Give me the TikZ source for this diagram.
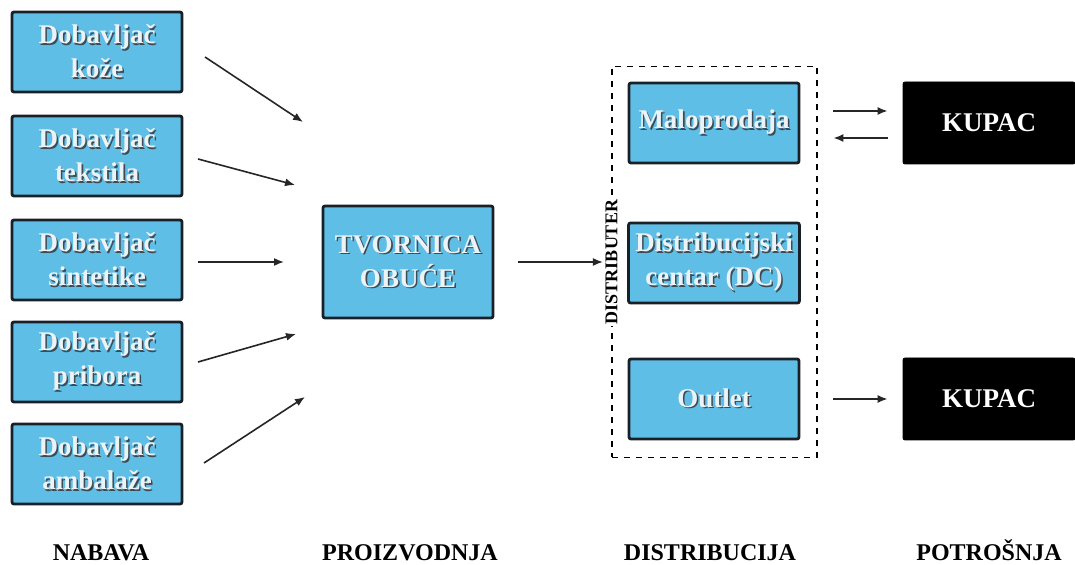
\documentclass[tikz,border=0pt]{standalone}
\usepackage{fontspec}
\setmainfont{Liberation Serif}
\usetikzlibrary{arrows.meta}
\definecolor{boxblue}{RGB}{95,190,230}
\definecolor{boxline}{RGB}{25,32,40}
\definecolor{txtpale}{RGB}{236,243,247}
\definecolor{txtshadow}{RGB}{60,75,85}
\newcommand\shd[1]{\leavevmode\rlap{\kern0.8pt\raisebox{-0.8pt}{\textcolor{txtshadow}{#1}}}#1}
\tikzset{
  bluebox/.style={draw=boxline, line width=1.4pt, fill=boxblue, rounded corners=1pt,
    minimum width=85pt, minimum height=40pt, align=center, text=txtpale,
    font=\fontsize{13.5}{17}\selectfont\bfseries},
  blackbox/.style={draw=black, fill=black, rounded corners=1pt, minimum width=86pt,
    minimum height=41pt, text=white, font=\fontsize{13.5}{17}\selectfont\bfseries},
  arr/.style={-{Latex[length=5pt,width=4pt]}, line width=0.8pt, black!85},
  stage/.style={anchor=base, font=\fontsize{12}{14}\selectfont\bfseries}
}
\begin{document}
\begin{tikzpicture}[x=0.5pt, y=-0.5pt]
\useasboundingbox (0,0) rectangle (1075,565);
% nabava
\foreach \k/\y/\txt in {1/52/kože, 2/156/tekstila, 3/260/sintetike, 4/362/pribora, 5/464/ambalaže}
    \node[bluebox] (d\k) at (97,\y) {\shd{Dobavljač}\\\shd{\txt}};
\foreach \k/\x/\y in {1/205/57, 2/198/159, 3/198/262, 4/198/362, 5/204/463}
    \coordinate (s\k) at (\x,\y);
\foreach \k/\x/\y in {1/303/122, 2/295/185, 3/284/262, 4/296/334, 5/305/397}
    \coordinate (t\k) at (\x,\y);
\foreach \k in {1,...,5}
    \draw[arr] (s\k) -- (t\k);
% proizvodnja
\node[bluebox, minimum height=56pt] (tv) at (408,262) {\shd{TVORNICA}\\\shd{OBUĆE}};
% distribucija
\node[draw, dashed, line width=0.6pt, minimum width=102.5pt, minimum height=195.5pt] (dist) at (714.5,262) {};
\node[fill=white, rotate=90, inner sep=1pt, font=\fontsize{9}{10}\selectfont\bfseries] (distlbl) at (dist.west) {DISTRIBUTER};
\node[bluebox] (mp) at (714,123) {\shd{Maloprodaja}};
\node[bluebox] (dc) at (714,263) {\shd{Distribucijski}\\\shd{centar (DC)}};
\node[bluebox] (ou) at (714,399) {\shd{Outlet}};
\draw[arr, shorten <=12pt] (tv.east) -- (tv.east -| distlbl.north);
% potrosnja
\node[blackbox] (k1) at (989,123) {KUPAC};
\node[blackbox] (k2) at (989,399) {KUPAC};
\draw[arr, shorten <=16.5pt, shorten >=7.5pt] ([yshift=6pt]mp.east) -- ([yshift=6pt]mp.east -| k1.west);
\draw[arr, shorten <=7.5pt, shorten >=16.5pt] ([yshift=-7.5pt]mp.east -| k1.west) -- ([yshift=-7.5pt]mp.east);
\draw[arr, shorten <=16.5pt, shorten >=7.5pt] (ou.east) -- (ou.east -| k2.west);
% faze
\node[stage] (nab) at (101,560) {NABAVA};
\node[stage] (pro) at (410,560) {PROIZVODNJA};
\node[stage] (dis) at (710,560) {DISTRIBUCIJA};
\node[stage] (pot) at (989,560) {POTROŠNJA};
\end{tikzpicture}
\end{document}
